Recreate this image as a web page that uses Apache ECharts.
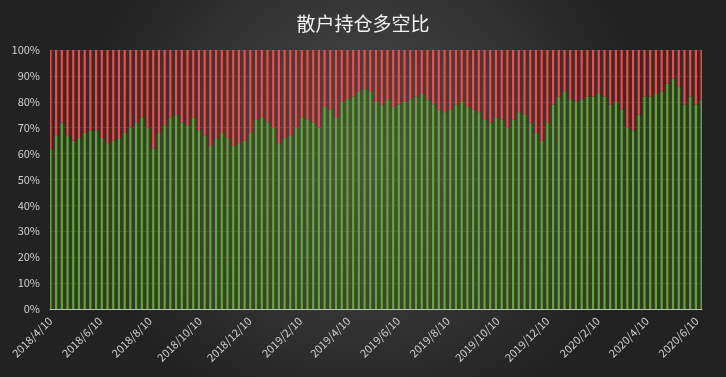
<!DOCTYPE html>
<html>
<head>
<meta charset="utf-8">
<script src="https://cdn.jsdelivr.net/npm/echarts@6/dist/echarts.min.js"></script>
<style>html,body{margin:0;padding:0;background:#2a2a2a;}#c{width:726px;height:377px;}</style>
</head>
<body>
<div id="c"></div>
<script>
// Weekly observations, first on 2018/4/10, one every 7 days
const startDate = [2018, 4, 10];
const endDate = [2020, 6, 16];
const stepDays = 7;
// Long share (%) of retail positions
const longPct = [
  62, 67, 72, 67, 65, 66, 68, 69, 69, 66,
  64, 65, 66, 68, 70, 72, 74, 70, 62, 68,
  71, 74, 75, 72, 71, 74, 69, 67, 63, 66,
  68, 66, 63, 64, 65, 68, 73, 74, 72, 70,
  64, 66, 67, 70, 74, 73, 72, 70, 78, 77,
  74, 80, 81, 82, 84, 85, 84, 80, 79, 81,
  78, 79, 80, 81, 82, 83, 81, 79, 77, 76,
  77, 79, 80, 78, 77, 76, 73, 72, 74, 73,
  70, 73, 76, 75, 72, 68, 65, 72, 79, 82,
  84, 81, 80, 81, 82, 82, 83, 82, 79, 80,
  77, 70, 69, 75, 82, 82, 83, 84, 87, 89,
  86, 79, 82, 79, 81
];
const shortPct = longPct.map(v => 100 - v);
const yTicks = [0, 10, 20, 30, 40, 50, 60, 70, 80, 90, 100];

// daily category axis (date axis like the original)
const days = [];
const longDaily = [];
const shortDaily = [];
{
  const d = new Date(Date.UTC(startDate[0], startDate[1] - 1, startDate[2]));
  const e = new Date(Date.UTC(endDate[0], endDate[1] - 1, endDate[2]));
  let k = 0;
  while (d <= e) {
    days.push(d.getUTCFullYear() + '/' + (d.getUTCMonth() + 1) + '/' + d.getUTCDate());
    if (k % stepDays === 0) {
      const idx = k / stepDays;
      longDaily.push(longPct[idx]);
      shortDaily.push(shortPct[idx]);
    } else {
      longDaily.push('-');
      shortDaily.push('-');
    }
    d.setUTCDate(d.getUTCDate() + 1);
    k++;
  }
}

const chart = echarts.init(document.getElementById('c'));
const labelInterval = function (i, v) {
  const p = String(v).split('/');
  return p[2] === '10' && (+p[1]) % 2 === 0;
};
const fontFam = '"Noto Sans CJK SC", "Noto Sans", sans-serif';
chart.setOption({
  backgroundColor: {
    type: 'radial', x: 0.5, y: 0.4, r: 0.75,
    colorStops: [
      {offset: 0, color: '#4c4c4c'},
      {offset: 1, color: '#222222'}
    ]
  },
  animation: false,
  title: {
    text: '散户持仓多空比',
    left: 'center',
    top: 9,
    textStyle: {color: '#f2f2f2', fontSize: 19, fontWeight: 'normal', fontFamily: fontFam}
  },
  grid: {left: 50, right: 24, top: 50, bottom: 68},
  xAxis: [{
    type: 'category',
    data: days,
    boundaryGap: true,
    axisLine: {lineStyle: {color: '#bfbfbf', width: 1}},
    axisTick: {show: false},
    axisLabel: {
      interval: labelInterval,
      rotate: 45,
      color: '#d0d0d0',
      fontSize: 11,
      fontFamily: fontFam,
      margin: 10
    },
    splitLine: {show: false}
  }, {
    type: 'category',
    data: days,
    boundaryGap: true,
    show: false
  }],
  yAxis: {
    type: 'value',
    min: yTicks[0],
    max: yTicks[yTicks.length - 1],
    interval: 10,
    axisLine: {show: false},
    axisTick: {show: false},
    axisLabel: {formatter: '{value}%', color: '#d0d0d0', fontSize: 11, fontFamily: fontFam, margin: 10},
    splitLine: {lineStyle: {color: 'rgba(255,255,255,0.12)', width: 1}}
  },
  series: [
    {
      name: 'long_bg', type: 'bar', xAxisIndex: 1, stack: 'bg', data: longDaily,
      barWidth: 5.8, itemStyle: {color: 'rgba(60,105,35,0.38)'}, silent: true
    },
    {
      name: 'short_bg', type: 'bar', xAxisIndex: 1, stack: 'bg', data: shortDaily,
      barWidth: 5.8, itemStyle: {color: 'rgba(140,45,45,0.32)'}, silent: true
    },
    {
      name: '多', type: 'bar', xAxisIndex: 0, stack: 'fg', data: longDaily,
      barWidth: 2.2, itemStyle: {color: '#6aa03c'}, z: 3
    },
    {
      name: '空', type: 'bar', xAxisIndex: 0, stack: 'fg', data: shortDaily,
      barWidth: 2.2, itemStyle: {color: '#e4504c'}, z: 3
    }
  ]
});
</script>
</body>
</html>
